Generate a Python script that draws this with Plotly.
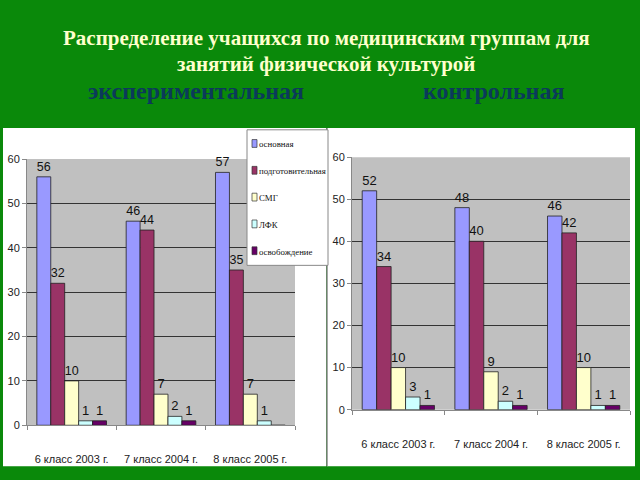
import plotly.graph_objects as go

categories = ["6 класс 2003 г.", "7 класс 2004 г.", "8 класс 2005 г."]
groups = ["основная", "подготовительная", "СМГ", "ЛФК", "освобождение"]
colors = ["#9999ff", "#993366", "#ffffcc", "#ccffff", "#660066"]

# экспериментальная
exp_values = {
    "основная": [56, 46, 57],
    "подготовительная": [32, 44, 35],
    "СМГ": [10, 7, 7],
    "ЛФК": [1, 2, 1],
    "освобождение": [1, 1, 0],
}
# контрольная
ctrl_values = {
    "основная": [52, 48, 46],
    "подготовительная": [34, 40, 42],
    "СМГ": [10, 9, 10],
    "ЛФК": [3, 2, 1],
    "освобождение": [1, 1, 1],
}

yticks = [0, 10, 20, 30, 40, 50, 60]

W, H = 640, 480
def px(x):
    return x / W
def py(y):
    return 1 - y / H

fig = go.Figure()
label_font = dict(family="Liberation Sans Narrow, Liberation Sans, Arial", size=13, color="#111111")

for xa, ya, data in (("x", "y", exp_values), ("x2", "y2", ctrl_values)):
    for g, c in zip(groups, colors):
        vals = data[g]
        fig.add_trace(go.Bar(
            x=categories, y=vals, name=g,
            marker=dict(color=c, line=dict(color="#222222", width=0.8)),
            text=[str(v) if v > 0 else "" for v in vals], textposition="outside", textfont=label_font,
            cliponaxis=False, xaxis=xa, yaxis=ya, showlegend=False,
        ))

tick_font = dict(family="Liberation Sans Narrow, Liberation Sans, Arial", size=11, color="#222222")
axis_common_x = dict(showgrid=False, showline=True, linecolor="#888888", ticks="outside",
                     tickcolor="#888888", ticklen=4, tickson="boundaries", tickfont=tick_font,
                     fixedrange=True, ticklabelstandoff=24)
axis_common_y = dict(range=[0, 60], tickvals=yticks, showgrid=True, gridcolor="#333333", gridwidth=0.9,
                     showline=True, linecolor="#888888", ticks="outside", tickcolor="#888888", ticklen=4,
                     tickfont=tick_font, zeroline=False, fixedrange=True)

shapes = [
    # white panels
    dict(type="rect", xref="paper", yref="paper", x0=px(3), x1=px(326), y0=py(472), y1=py(125),
         fillcolor="white", line=dict(width=0), layer="below"),
    dict(type="rect", xref="paper", yref="paper", x0=px(327), x1=px(635), y0=py(472), y1=py(125),
         fillcolor="white", line=dict(width=0), layer="below"),
    dict(type="line", xref="paper", yref="paper", x0=px(327), x1=px(327), y0=py(472), y1=py(125),
         line=dict(color="#888888", width=1.5)),
    # gray plot areas
    dict(type="rect", xref="x domain", yref="y domain", x0=0, x1=1, y0=0, y1=1,
         fillcolor="#c0c0c0", line=dict(width=0), layer="below"),
    dict(type="rect", xref="x2 domain", yref="y2 domain", x0=0, x1=1, y0=0, y1=1,
         fillcolor="#c0c0c0", line=dict(width=0), layer="below"),
    # legend box
    dict(type="rect", xref="paper", yref="paper", x0=px(247), x1=px(328), y0=py(266), y1=py(127),
         fillcolor="white", line=dict(color="#888888", width=1), layer="above"),
]

title_font = dict(family="Liberation Serif, Times New Roman", size=21, color="#ffffcc")
sub_font = dict(family="Liberation Serif, Times New Roman", size=24, color="#0b3a5a")
annotations = [
    dict(text="<b>Распределение учащихся по медицинским группам для</b>", x=px(326), y=py(33),
         xref="paper", yref="paper", showarrow=False, font=title_font, xanchor="center", yanchor="middle"),
    dict(text="<b>занятий физической культурой</b>", x=px(326), y=py(59),
         xref="paper", yref="paper", showarrow=False, font=title_font, xanchor="center", yanchor="middle"),
    dict(text="<b>экспериментальная</b>", x=px(196), y=py(87),
         xref="paper", yref="paper", showarrow=False, font=sub_font, xanchor="center", yanchor="middle"),
    dict(text="<b>контрольная</b>", x=px(493), y=py(87),
         xref="paper", yref="paper", showarrow=False, font=sub_font, xanchor="center", yanchor="middle"),
]

# legend (manual, built from groups/colors)
leg_font = dict(family="Liberation Serif, Times New Roman", size=8.8, color="#111111")
for i, (g, c) in enumerate(zip(groups, colors)):
    yc = 141 + i * 27.5
    shapes.append(dict(type="rect", xref="paper", yref="paper", x0=px(252), x1=px(257),
                       y0=py(yc + 4), y1=py(yc - 4), fillcolor=c,
                       line=dict(color="#333333", width=0.7), layer="above"))
    annotations.append(dict(text=g, x=px(257), y=py(yc + 1), xref="paper", yref="paper",
                            showarrow=False, font=leg_font, xanchor="left", yanchor="middle"))

fig.update_layout(
    width=W, height=H, margin=dict(l=0, r=0, t=0, b=0),
    paper_bgcolor="#0a890a", plot_bgcolor="rgba(0,0,0,0)",
    barmode="group", bargap=0.22, bargroupgap=0,
    xaxis=dict(domain=[px(27), px(295)], anchor="y", **axis_common_x),
    yaxis=dict(domain=[py(430), py(157)], anchor="x", **axis_common_y),
    xaxis2=dict(domain=[px(352), px(630)], anchor="y2", **axis_common_x),
    yaxis2=dict(domain=[py(414), py(155)], anchor="x2", **axis_common_y),
    shapes=shapes, annotations=annotations,
    showlegend=False,
)

fig.write_html("out.html")
